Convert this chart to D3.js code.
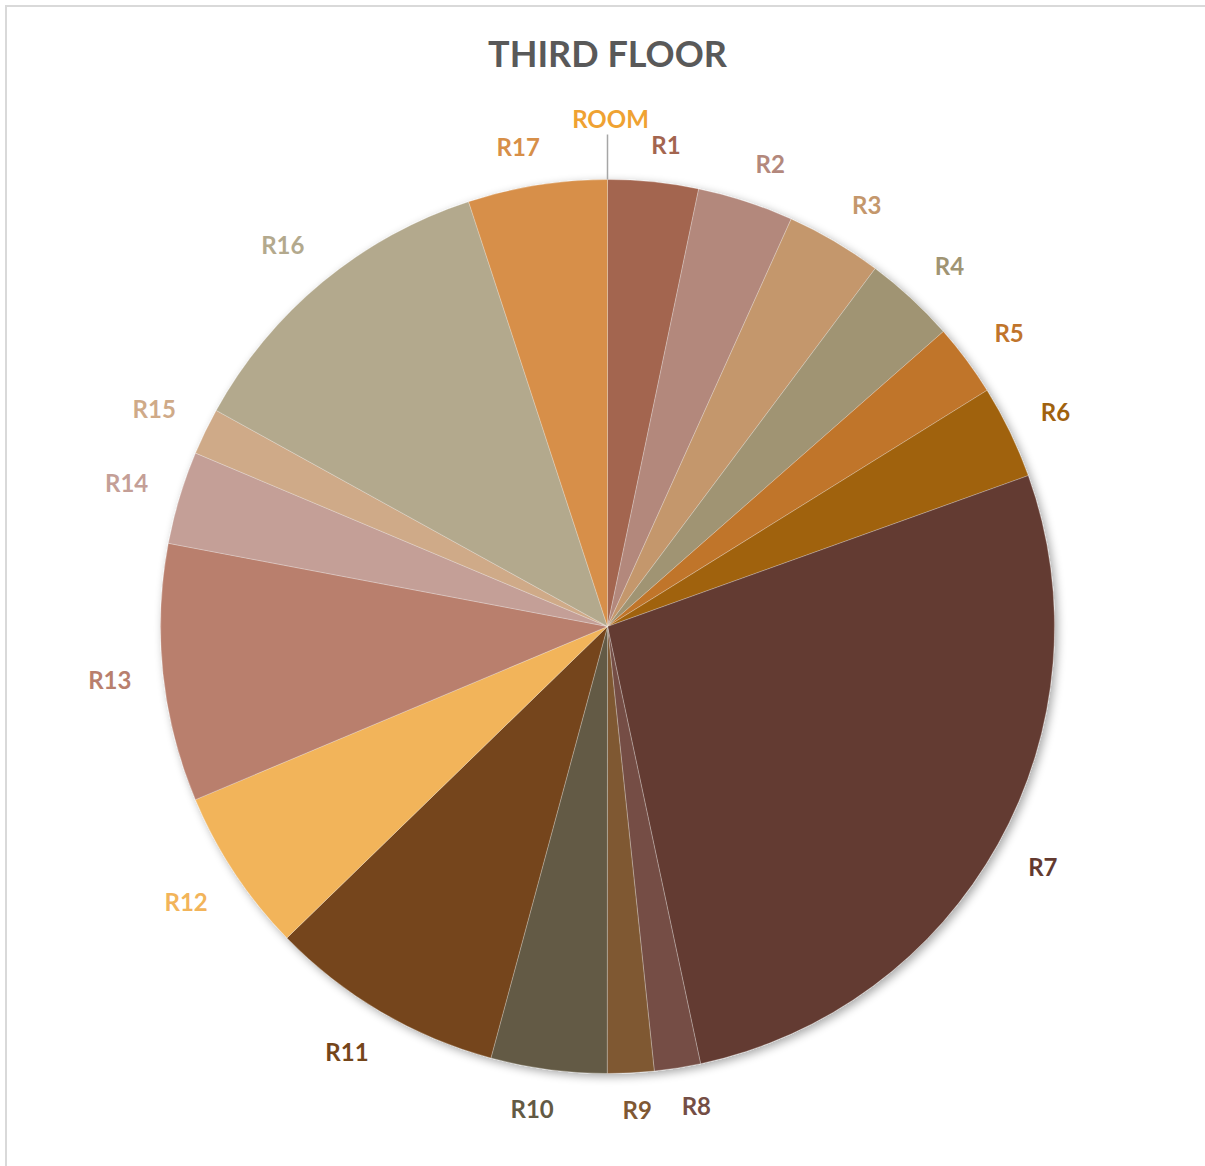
<!DOCTYPE html>
<html>
<head>
<meta charset="utf-8">
<script src="https://cdn.jsdelivr.net/npm/d3@7"></script>
<style>
  body { margin: 0; background: #fff; }
  svg { display: block; }
  text { font-family: Lato, "Open Sans", sans-serif; font-weight: 700; }
</style>
</head>
<body>
<div id="chart"></div>
<script>
// rooms, in chart order (ROOM is the header row, value 0)
var rooms = ['ROOM', 'R1', 'R2', 'R3', 'R4', 'R5', 'R6', 'R7', 'R8', 'R9',
             'R10', 'R11', 'R12', 'R13', 'R14', 'R15', 'R16', 'R17'];

// share of floor (percent)
var shares = [0, 3.27, 3.47, 3.48, 3.31, 2.61, 3.38, 27.14, 1.67, 1.68,
              4.19, 8.53, 5.94, 9.31, 3.36, 1.69, 11.94, 5.03];

var colors = ['#EFA232', '#A3654F', '#B3887C', '#C4976C', '#A09473', '#C0742B',
              '#A0620E', '#633A30', '#744E45', '#7F5833', '#635A44', '#74451A',
              '#F2B45A', '#B97F6D', '#C49F97', '#CFAA88', '#B3A98D', '#D78F48'];

var title = 'THIRD FLOOR';

var width = 1205, height = 1166;
var cx = 607.5, cy = 626.5, radius = 447;
var labelGap = 31;

var data = rooms.map(function(r, i){ return {room: r, value: shares[i], color: colors[i]}; });

var svg = d3.select('#chart').append('svg')
    .attr('width', width)
    .attr('height', height);

// chart area border (right/bottom run off the picture)
svg.append('rect')
    .attr('x', 6).attr('y', 6)
    .attr('width', width + 20).attr('height', height + 20)
    .attr('fill', '#fff')
    .attr('stroke', '#d9d9d9')
    .attr('stroke-width', 2);

// soft shadow under the pie
var defs = svg.append('defs');
var filter = defs.append('filter').attr('id', 'shadow')
    .attr('x', '-10%').attr('y', '-10%').attr('width', '120%').attr('height', '120%');
filter.append('feGaussianBlur').attr('in', 'SourceAlpha').attr('stdDeviation', 5);
filter.append('feOffset').attr('dx', 3).attr('dy', 3).attr('result', 'blur');
filter.append('feComponentTransfer').append('feFuncA').attr('type', 'linear').attr('slope', 0.35);
var merge = filter.append('feMerge');
merge.append('feMergeNode');
merge.append('feMergeNode').attr('in', 'SourceGraphic');

svg.append('text')
    .attr('x', cx)
    .attr('y', 67)
    .attr('text-anchor', 'middle')
    .attr('font-size', 36)
    .attr('fill', '#595959')
    .text(title);

var pie = d3.pie()
    .sort(null)
    .value(function(d){ return d.value; });

var arcs = pie(data);

var arc = d3.arc()
    .innerRadius(0)
    .outerRadius(radius);

var g = svg.append('g')
    .attr('transform', 'translate(' + cx + ',' + cy + ')');

g.append('g')
    .attr('filter', 'url(#shadow)')
  .selectAll('path')
  .data(arcs.filter(function(d){ return d.value > 0; }))
  .enter().append('path')
    .attr('d', arc)
    .attr('fill', function(d){ return d.data.color; })
    .attr('stroke', '#fff')
    .attr('stroke-opacity', 0.35)
    .attr('stroke-width', 0.75);

// labels outside the end of each slice
var labels = g.append('g').selectAll('text')
  .data(arcs)
  .enter().append('text')
    .attr('text-anchor', 'middle')
    .attr('dominant-baseline', 'central')
    .attr('font-size', 24)
    .attr('fill', function(d){ return d.data.color; })
    .text(function(d){ return d.data.room; });

labels.each(function(d){
    var a = (d.startAngle + d.endAngle) / 2;
    var s = Math.sin(a), c = Math.cos(a);
    var w = this.getComputedTextLength();
    var ext = Math.abs(w / 2 * s) + Math.abs(5 * c);
    var zero = d.value === 0;
    // zero slices get pushed out and get a leader line
    var r = radius + labelGap + ext + (zero ? 25 : 0);
    // labels near top and bottom spread sideways a little
    var spread = zero ? 3 : Math.sign(s) * Math.min(1, Math.abs(s) / 0.15) * 13 * Math.pow(Math.abs(c), 1.5);
    d3.select(this)
        .attr('x', r * s + spread)
        .attr('y', -r * c);
    if(zero){
        g.append('line')
            .attr('x1', radius * s).attr('y1', -radius * c)
            .attr('x2', (radius + 45) * s).attr('y2', -(radius + 45) * c)
            .attr('stroke', '#a6a6a6')
            .attr('stroke-width', 1.5);
    }
});
</script>
</body>
</html>
